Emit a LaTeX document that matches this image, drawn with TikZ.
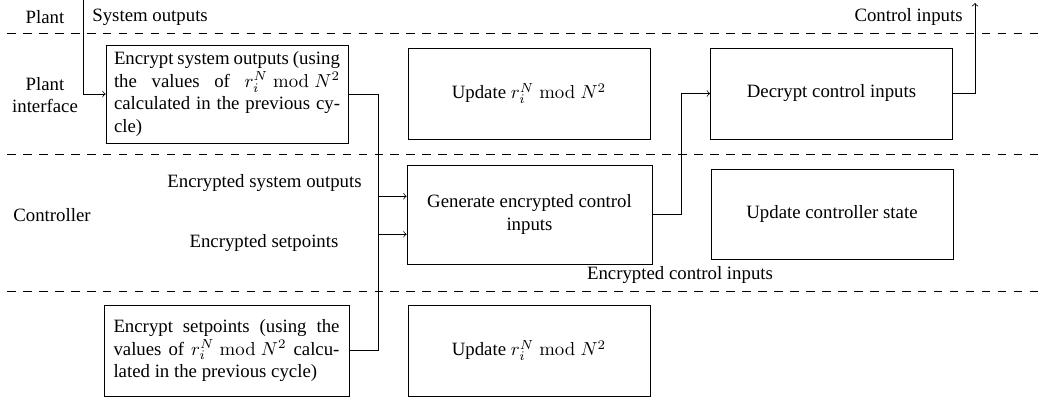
\documentclass[tikz,border=0pt]{standalone}
\usepackage[no-math]{fontspec}
\setmainfont{Liberation Serif}
\begin{document}
\begin{tikzpicture}[x=0.5319pt,y=-0.5319pt,
  blk/.style={draw, inner xsep=4.2pt, minimum width=128.7pt, minimum height=48.4pt, align=center},
  jblk/.style={blk, text width=120.2pt, align=justify},
  lane/.style={dash pattern=on 4.6pt off 3.9pt, dash phase=4.8pt},
  lbl/.style={inner sep=0pt},
  flow/.style={->}]
\useasboundingbox (0,0) rectangle (1046,403);

% lane separators
\coordinate (l1a) at (0,33);   \coordinate (l1b) at (1046,33);
\coordinate (l2a) at (0,154);  \coordinate (l2b) at (1046,154);
\coordinate (l3a) at (0,291);  \coordinate (l3b) at (1046,291);
\draw[lane] (l1a) -- (l1b);
\draw[lane] (l2a) -- (l2b);
\draw[lane] (l3a) -- (l3b);

% lane names
\node[lbl] (plant) at (45,17) {Plant};
\node[lbl, align=center] (pif) at (45,95) {Plant\\interface};
\node[lbl] (ctrl) at (52,215) {Controller};

% plant interface lane
\node[jblk, minimum height=52.1pt] (encout) at (227,94)
  {Encrypt system outputs (using\linebreak the values of $r_i^N \bmod N^2$\linebreak
   calculated in the previous cy-\linebreak cle)};
\node[blk] (upd1) at (529,93.5) {Update $r_i^N \bmod N^2$};
\node[blk] (dec) at (831.5,93.5) {Decrypt control inputs};

% controller lane
\node[blk, minimum width=130.3pt, minimum height=52.7pt] (gen) at (529.5,214.5)
  {Generate encrypted control\\inputs};
\node[blk, minimum height=47.9pt] (updc) at (832,214) {Update controller state};

% bottom lane
\node[jblk, minimum width=130.3pt] (encsp) at (226.5,350.5)
  {Encrypt setpoints (using the values of $r_i^N \bmod N^2$ calculated in the previous cycle)};
\node[blk] (upd2) at (529,350.5) {Update $r_i^N \bmod N^2$};

% signal labels
\node[lbl, anchor=west] (sysout) at (92,17) {System outputs};
\node[lbl, anchor=east] (ctlin) at (963,17) {Control inputs};
\node[lbl] (esys) at (264.5,183) {Encrypted system outputs};
\node[lbl] (esp) at (264,243) {Encrypted setpoints};
\node[lbl] (ectl) at (680,275) {Encrypted control inputs};

% connectors
\coordinate (in) at (83,0);
\coordinate (out) at (975,3);
\draw[flow] (in) |- (encout.west);
\draw[flow] (encout.east) -- ++(30,0) |- ([yshift=-10.5pt]gen.west);
\draw[flow] (encsp.east) -- ++(29,0) |- ([yshift=9.7pt]gen.west);
\draw[flow] (gen.east) -- ++(29,0) |- (dec.west);
\draw[flow] (dec.east) -| (out);
\end{tikzpicture}
\end{document}
